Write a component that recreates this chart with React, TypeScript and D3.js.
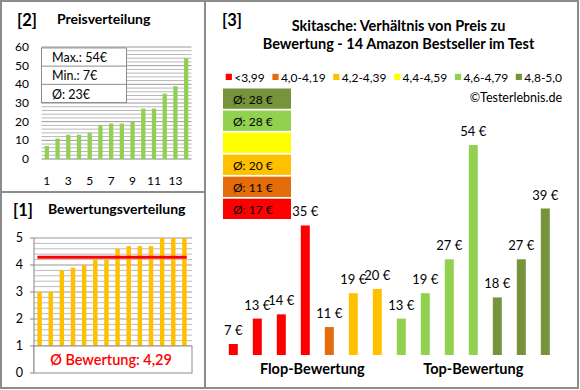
import * as d3 from 'd3'

// Preise der 14 Produkte (Reihenfolge wie im Hauptdiagramm)
const prices = [7, 13, 14, 35, 11, 19, 20, 13, 19, 27, 54, 18, 27, 39]
// Bewertungsklasse je Produkt (Index in classLabels)
const ratingClass = [0, 0, 0, 0, 1, 2, 2, 4, 4, 4, 4, 5, 5, 5]
const classLabels = ['<3,99', '4,0-4,19', '4,2-4,39', '4,4-4,59', '4,6-4,79', '4,8-5,0']
const classColors = ['#ff0000', '#e46c0a', '#ffc000', '#ffff00', '#92d050', '#77933c']
// Bewertungen sortiert
const ratings = [3.0, 3.0, 3.8, 3.9, 4.0, 4.2, 4.2, 4.6, 4.7, 4.7, 4.7, 5.0, 5.0, 5.0]
const avgRating = 4.29
const groupLabels = ['Flop-Bewertung', 'Top-Bewertung']
const priceTicks = [0, 10, 20, 30, 40, 50, 60]
const priceXLabels = [1, 3, 5, 7, 9, 11, 13]
const ratingTicks = [0, 1, 2, 3, 4, 5]

const FONT = "Lato, 'Open Sans', sans-serif"
const BORDER = '#8c8c8c'

function measure(text: string, font: string) {
  const ctx = document.createElement('canvas').getContext('2d')
  if (!ctx) return text.length * 6
  ctx.font = font
  return ctx.measureText(text).width
}

function PricePanel() {
  const sorted = d3.sort(prices)
  const x = d3.scaleBand(d3.range(sorted.length), [41.5, 191.5]).paddingInner(0.6).paddingOuter(0.3)
  const y = d3.scaleLinear([0, 60], [159, 47])
  const grid = d3.range(0, 61, 2)
  const stats = [
    `Max.: ${d3.max(prices)}€`,
    `Min.: ${d3.min(prices)}€`,
    `Ø: ${Math.round(d3.mean(prices) ?? 0)}€`,
  ]
  const boxTop = y(59.5)
  const rowH = 18.2
  return (
    <g>
      <text x={17} y={26} fontSize={16.5} fontWeight="bold">[2]</text>
      <text x={57} y={23.5} fontSize={14} fontWeight="bold">Preisverteilung</text>
      {grid.map((v) => (
        <line key={v} x1={41.5} x2={191.5} y1={y(v)} y2={y(v)}
          stroke={v === 0 ? '#868686' : v % 10 === 0 ? '#989898' : '#b8b8b8'} strokeWidth={1} />
      ))}
      {priceTicks.map((v) => (
        <text key={v} x={29} y={y(v) + 4} fontSize={12} textAnchor="end">{v}</text>
      ))}
      {sorted.map((v, i) => (
        <rect key={i} x={x(i)} y={y(v)} width={x.bandwidth()} height={y(0) - y(v)} fill="#92d050" />
      ))}
      {priceXLabels.map((v) => (
        <text key={v} x={(x(v - 1) ?? 0) + x.bandwidth() / 2} y={185} fontSize={12} textAnchor="middle">{v}</text>
      ))}
      <rect x={41.5} y={boxTop} width={85} height={rowH * 3} fill="#fff" stroke={BORDER} />
      {stats.map((s, i) => (
        <g key={s}>
          {i > 0 && <line x1={41.5} x2={126.5} y1={boxTop + rowH * i} y2={boxTop + rowH * i} stroke={BORDER} />}
          <text x={52} y={boxTop + rowH * i + 14.3} fontSize={12.5}>{s}</text>
        </g>
      ))}
    </g>
  )
}

function RatingPanel() {
  const x = d3.scaleBand(d3.range(ratings.length), [34, 190]).paddingInner(0.6).paddingOuter(0.3)
  const y = d3.scaleLinear([0, 5], [373, 238])
  const grid = d3.range(1, 5.01, 0.2)
  return (
    <g>
      <text x={13} y={216} fontSize={16.5} fontWeight="bold">[1]</text>
      <text x={48} y={213.5} fontSize={14} fontWeight="bold">Bewertungsverteilung</text>
      {grid.map((v) => (
        <line key={v} x1={34} x2={192} y1={y(v)} y2={y(v)}
          stroke={Math.abs(v - Math.round(v)) < 0.01 ? '#989898' : '#bcbcbc'} />
      ))}
      <line x1={34} x2={34} y1={y(5)} y2={y(0)} stroke="#868686" />
      {ratingTicks.map((v) => (
        <g key={v}>
          <line x1={30} x2={34} y1={y(v)} y2={y(v)} stroke="#868686" />
          <text x={23} y={y(v) + 4.3} fontSize={12.5} textAnchor="end">{v}</text>
        </g>
      ))}
      {ratings.map((v, i) => (
        <rect key={i} x={x(i)} y={y(v)} width={x.bandwidth()} height={y(0) - y(v)} fill="#ffc000" />
      ))}
      <line x1={x(0)} x2={(x(ratings.length - 1) ?? 0) + x.bandwidth()} y1={y(avgRating)} y2={y(avgRating)}
        stroke="#ff0000" strokeWidth={3} />
      <rect x={34} y={y(1)} width={158} height={y(0) - y(1)} fill="#fff" stroke={BORDER} />
      <text x={111} y={y(0.5) + 5} fontSize={14.5} fontWeight={600} fill="#ff0000" textAnchor="middle">
        {`Ø Bewertung: ${d3.format('.2f')(avgRating).replace('.', ',')}`}
      </text>
    </g>
  )
}

function MainPanel() {
  const x = d3.scaleBand(d3.range(prices.length), [221.3, 557.3]).paddingInner(0.625).paddingOuter(0.3125)
  const y = d3.scaleLinear([4.4, 54], [355, 145])
  const bw = x.bandwidth()

  // Legende: Breiten messen, Abstand so wählen, dass sie 225.7..562 füllt
  const legendFont = `12px ${FONT}`
  const widths = classLabels.map((l) => 8.5 + measure(l, legendFont))
  const gap = (562 - 225.7 - d3.sum(widths)) / (classLabels.length - 1)
  let cursor = 225.7
  const legend = classLabels.map((label, i) => {
    const item = { x: cursor, label, color: classColors[i] }
    cursor += widths[i] + gap
    return item
  })

  // Durchschnittspreis je Klasse, von oben (beste) nach unten
  const avgs = classLabels.map((_, c) => {
    const vals = prices.filter((_, i) => ratingClass[i] === c)
    return vals.length ? Math.round(d3.mean(vals) ?? 0) : null
  })
  const boxOrder = d3.range(classLabels.length).reverse()
  const boxY = d3.scaleBand(boxOrder, [88.5, 219]).paddingInner(0.08)

  const flopMid = ((x(0) ?? 0) + (x(6) ?? 0) + bw) / 2 + 7
  const topMid = ((x(7) ?? 0) + (x(13) ?? 0) + bw) / 2

  return (
    <g>
      <text x={222} y={26} fontSize={16.5} fontWeight="bold">[3]</text>
      <text x={398.5} y={30.5} fontSize={14.5} fontWeight="bold" textAnchor="middle">Skitasche: Verhältnis von Preis zu</text>
      <text x={398.5} y={48.5} fontSize={14.5} fontWeight="bold" textAnchor="middle">Bewertung - 14 Amazon Bestseller im Test</text>
      {legend.map((l) => (
        <g key={l.label}>
          <rect x={l.x} y={73.8} width={6.2} height={6.2} fill={l.color} />
          <text x={l.x + 8.5} y={81.5} fontSize={12}>{l.label}</text>
        </g>
      ))}
      <text x={562} y={101.5} fontSize={12.5} textAnchor="end">©Testerlebnis.de</text>
      {boxOrder.map((c) => (
        <g key={c}>
          <rect x={223} y={boxY(c)} width={68} height={boxY.bandwidth()} fill={classColors[c]} />
          {avgs[c] !== null && (
            <text x={233} y={(boxY(c) ?? 0) + 15} fontSize={12}>{`Ø: ${avgs[c]} €`}</text>
          )}
        </g>
      ))}
      {prices.map((v, i) => (
        <g key={i}>
          <rect x={x(i)} y={y(v)} width={bw} height={y(4.4) - y(v)} fill={classColors[ratingClass[i]]} />
          <text x={(x(i) ?? 0) + bw / 2} y={y(v) - 9} fontSize={13} textAnchor="middle">{`${v} €`}</text>
        </g>
      ))}
      <text x={flopMid} y={373.5} fontSize={14.5} fontWeight="bold" textAnchor="middle">{groupLabels[0]}</text>
      <text x={topMid} y={373.5} fontSize={14.5} fontWeight="bold" textAnchor="middle">{groupLabels[1]}</text>
    </g>
  )
}

export default function App() {
  return (
    <div style={{ position: 'absolute', left: 0, top: 0 }}>
      <svg width={580} height={390} style={{ display: 'block', fontFamily: FONT }}>
        <rect width={580} height={390} fill="#fff" />
        <PricePanel />
        <RatingPanel />
        <MainPanel />
        <rect x={1} y={1} width={577} height={387} fill="none" stroke={BORDER} strokeWidth={2} />
        <line x1={205} x2={205} y1={1} y2={388} stroke={BORDER} strokeWidth={2} />
        <line x1={1} x2={205} y1={192} y2={192} stroke={BORDER} strokeWidth={2} />
      </svg>
    </div>
  )
}
